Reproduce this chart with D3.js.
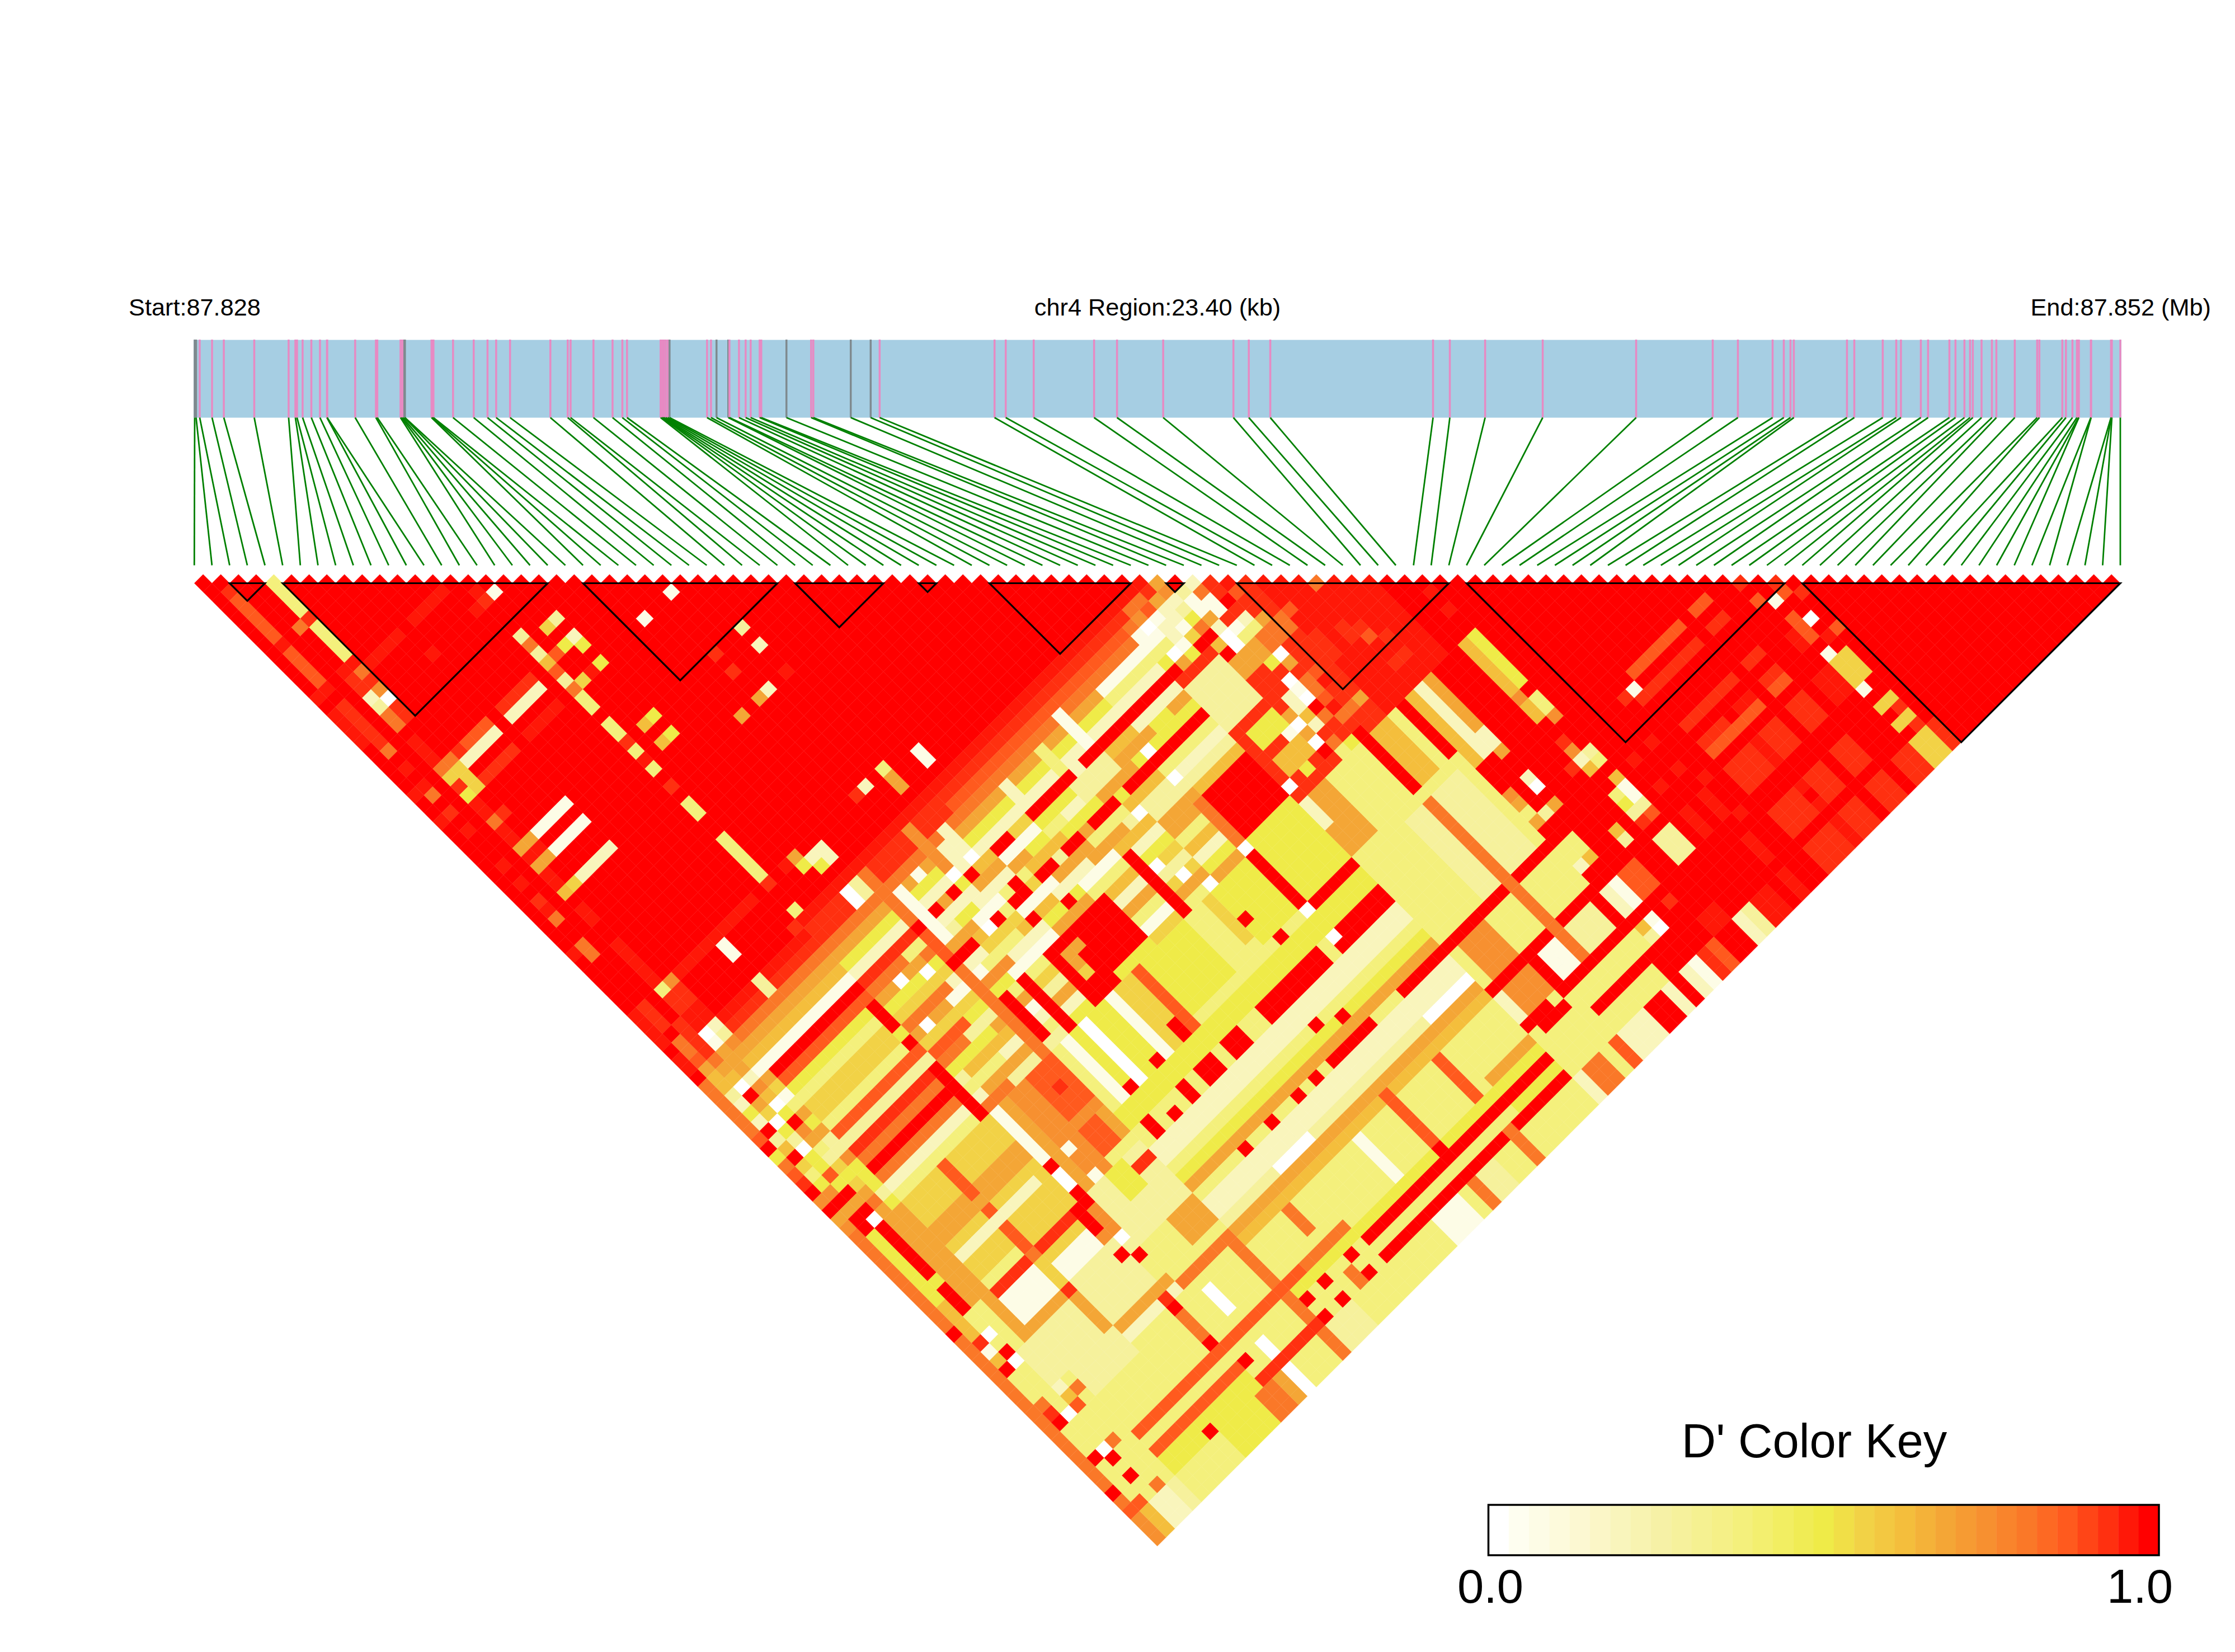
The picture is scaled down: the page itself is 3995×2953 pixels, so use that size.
<!DOCTYPE html>
<html><head><meta charset="utf-8">
<script src="https://cdn.jsdelivr.net/npm/d3@7"></script>
<style>html,body{margin:0;background:#fff}svg{display:block}text{font-family:"Liberation Sans",Arial,sans-serif;fill:#000}</style>
</head><body><div id="c"></div>
<script>
const snpOffsets=[0,17,61,211,354,724,1142,1224,1244,1312,1418,1523,1608,1611,1951,2203,2220,2502,2515,2529,2549,2556,2879,2890,2903,3141,3392,3560,3665,3834,4324,4535,4570,4848,5080,5199,5256,5664,5681,5691,5705,5726,5750,5773,6229,6277,6344,6487,6501,6617,6698,6759,6868,6888,7194,7494,7521,7976,8218,8327,9724,9860,10200,10934,11213,11774,12628,12815,13076,15055,15259,15688,16388,17524,18455,18761,19183,19319,19400,19441,20087,20176,20522,20686,20743,20985,21073,21332,21406,21515,21583,21617,21723,21849,21903,22127,22399,22426,22705,22749,22828,22882,22902,22906,23052,23055,23297,23300,23307,23410];
const greySnps=[0,1,20,21,43,46,47,54,57,58];
const ldBlocks=[[2,4],[5,20],[22,33],[34,39],[41,42],[45,53],[55,56],[59,71],[72,90],[91,109]];
const keyLabels=["0.0","1.0"];
const keyTitle="D' Color Key";
const regionTexts=["Start:87.828","chr4 Region:23.40 (kb)","End:87.852 (Mb)"];
const keyStops=[[0,"#ffffff"],[1,"#fefef0"],[4,"#fcf8d2"],[8,"#f6f1a6"],[12,"#f4f07c"],[16,"#efeb48"],[18,"#f2d246"],[20,"#f4be3c"],[22,"#f4a636"],[24,"#f79030"],[26,"#fa7828"],[28,"#ff5a1e"],[30,"#ff3010"],[32,"#ff0000"]];
const levelValues={W:0,1:2/32,2:6/32,3:9/32,4:12/32,5:16/32,6:18/32,7:20/32,8:22/32,9:24/32,a:26/32,b:28/32,c:30/32,d:31/32,R:1};
// D': "firstSNP-lastSNP,pairSNP-range,level", later entries override earlier ones; everything else is 1.0
const dprimePatches=`0-53,54-108,4
5-14,54,d 5-14,55,c 5-14,56,a 5-14,57,8 5-14,58,7 5-14,59,1 5-14,60,R 5-14,61,b 5-14,62,5 5-14,63,4 5-14,64,6 5-14,65,6 5-14,66,4 5-14,67,b 5-14,68,3 5-14,69,c 5-14,70,a 5-14,71,R 5-14,72,a 5-14,73,2 5-14,74,4
14,69-74,R 14,62-64,R 14,66,R 14,65,5
15-53,53,d 15-53,54,c 15-29,55,c 30-53,55,b 15-53,56,a 15-44,57,8 45-53,57,1 15-44,58,5 45-53,58,4 15-53,59,2 15-50,60,R 15-20,64,6 21-50,64,R 15-53,69,4 15-53,70,6 15-53,71,3 15-53,72,8 15-53,73,2 15-53,74,5
15-18,61,a 19-22,61,4 23-26,61,2 27-29,61,8 30-33,61,1 34-37,61,5 38-41,61,3 42-44,61,7 45-53,61,2
15-19,62,8 20-21,62,a 22-23,62,3 24-25,62,5 26-29,62,2 30-31,62,8 32-33,62,5 34-35,62,4 36-37,62,2 38-41,62,3 42-45,62,8 46-47,62,5 48-53,62,8
15-20,63,5 21-24,63,8 25-27,63,1 28-30,63,4 31-34,63,7 35-38,63,5 39-42,63,8 43-53,63,5
15-19,65,a 20-23,65,2 24-27,65,6 28-31,65,1 32-35,65,8 36-39,65,4 40-43,65,7 44-53,65,4
15-18,66,8 19-22,66,1 23-26,66,4 27-30,66,7 31-34,66,2 35-38,66,8 39-43,66,3 44-53,66,2
15-20,67,6 21-24,67,9 25-28,67,2 29-32,67,5 33-36,67,1 37-40,67,7 41-44,67,3 45-53,67,3
15-18,68,b 19-23,68,5 24-27,68,1 28-32,68,8 33-36,68,4 37-40,68,2 41-44,68,8 45-53,68,7
15-17,69,a 18-21,69,3 34-36,69,7 38-40,69,5 41-43,69,8 15-19,70,5 20-23,70,8 34-37,70,2 38-40,70,6 41-43,70,4 16-20,71,7 21-23,71,1 34-36,71,8 38-40,71,3 41-43,71,7 15-18,72,4 19-23,72,2 34-36,72,4 38-40,72,6 41-43,72,2 16-20,73,8 21-23,73,4 34-36,73,1 38-40,73,8 41-43,73,5 15-17,74,a 18-23,74,3 34-36,74,6 38-40,74,4 41-43,74,8
21,54-59,a 21,61-63,b 21,65-74,a 22,57-62,1 27,57-59,2 28,56-59,2 34,57-59,2 41,56-59,1 38,57-59,4 26,54-59,9
15-20,60,c 24,60,8 26,60,5 28-29,60,7 32-33,60,6 39,60,2 24,64,7 27,64,4 30,64,6 33,64,3 36,64,8 40,64,5
19,54-55,W 20,54-55,3 28,59,W 26,59,W 25,64,W 28,66,R 31,67,R 29,63,R 44,66,W 51,59,W 51,56,W 52,56,1 51,60,5 24,57,1 38,70,W 39,72,W 40,74,W 40,66,W 44,63,W 28,68,1 16,66,W 19,63,W 17,62,W
37,68-74,R 22,69-73,R 24,69-74,R 27-29,69-74,R 30-33,69-73,R 28,72,6 28,70-71,8 29,70,8 44,69-73,a 44,74,W
46-53,54,c 51-52,54,a 53,54,c 53,55,8 54,55,9 54,54,8 56,56,2 57,57,c 58,58,d 59,59,c 56,57,a 57,58,c 58,59,b 59,60,a 55,56,3 56,58,1 55,57,1 55,58,1 56,59,1 54,56,2 54,57,3 54,58,4 55,59,8 53,56-57,2 53,58,1
50-61,60-74,c 50,54,c 50,55,a 51,55,9 50,56-57,1 50,58,4 50,59,5 50,60,R 52,57,2 51,57,1 52,58,2 53,58,1 54,58,5 54,59,a 55,60,2 56,60,c 56,61,1 57,61,2 57,62,4 58,62,8 58,63,8 55,61,W 53,59,6 53,60,R 54,60,R 54,61,7 55,62,W 56,62,4 54,62,R 53,62,a 52,59,1 51,59,W 52,60,5 51,60,8
55,68-69,2 56,69,W 56,68,1 56,67,W 57,68-69,a 58,68,b 58,67,c 58,66,c 57,66,8 58,65,c 57,70,b 58,70,c 58,69,d 56,70,R 55,70,7 54,70,W 54,69,8 53,70,1 54,71,8 54,72,W 55,71,2 56,71,a 57,71,d 54,73,R 55,73,a 56,72,c 57,72,a 58,72,a 59,72,8 60,73,c 57,74,R 56,74,5 55,74,4 52,73,5 50,73,W 51-53,71-72,7 50-53,62-66,3 51-53,68-69,5 57,65,W 56,65,5 54-56,63-64,8 57-59,63-64,a 45-49,69-73,R
60-66,60-74,d 60,63,b 59,64,a 60,66-68,c 62,67-68,c 63,68,c 64,68,d 63,69,b 64,70,c 64,72,c 63,72,c 60,72,d 63,63,a
0,57-62,a 1,56,8 2,56,a 3,56,8 4,56,9 1,57,7 2,57,8 3,57,8 4,57,8 1,58,7 2,58,7 3,58,8 4,58,7 1,59,3 2,59,W 3,59,2 4,59,1 0,60,a 1,60,2 2,60,R 3,60,9 4,60,8 1,61,5 2,61,8 3,61,7 4,61,6 1,62,2 2,62,6 3,62,W 4,62,1
0,63,b 1,63,R 2,63,W 3,63,5 4,63,4 0,64,R 1,64,3 2,64,5 3,64,R 4,64,8 0,65,5 1,65,7 2,65,3 3,65,9 4,65,5 0,66,a 1,66,R 2,66,W 3,66,8 4,66,8 0,67,b 1,67,6 2,67,5 3,67,4 4,67,3 0,68,c 1,68,4 2,68,5 3,68,3 4,68,3 0,69,R 1,69,5 2,69,b 3,69,6 4,69,9
0,70,9 1,70,9 2,70,5 3,70,5 4,70,5 0,71,R 1,71,R 2,71,R 3,71,6 4,71,5 0-3,72,8 4,72,5 0,73,9 1,73,R 2,73,R 3,73,a 4,73,3 0,74,a 1,74,R 2,74,W 3,74,8 4,74,5
1,54,a 1,53,a 1,55,b 0,54-55,d 3,54,W 4,54,2 3,55,1 4,55,3 2,54-55,c 0-1,56,R 1,56,8
0,75-82,a 1,75-82,5 2,75-80,R 2,81,5 2,82-84,R 3,75-84,8 4,75-88,8 5-8,75-83,6 9,75-84,b 10-14,75-86,6 15,75-81,1 15,81,R 15,82-83,W 15,84-85,R 16,75-88,8 17-18,75-85,9 19-21,75-79,b 20,77,c 19-21,80,9 19-20,81-83,b 21,81-83,8 17,81,1 17,84,1
22,75-90,4 23,75-81,1 24,75-81,5 25,75-81,W 26-27,75-81,5 28,75-81,1 29-30,75-81,6 31,75-81,b 32-36,75-80,5 37,75-81,4 38,75-80,4 39,75-79,6 40-43,75-80,5 40,78,R 41,81,R 44,75-78,R 44,79-81,R 44,81,W 44,82-84,R 44,84,W 44,85,R 45-49,75-80,5 50,75-80,2 51-52,75-77,8 50-52,78-80,8 53-54,75-82,4 55-56,75-81,4 57,75-81,R 58,75-80,7 59,75-80,7 60,75-80,4 54-55,82,R
45-49,81,R 45-49,82-83,5 45-49,84-85,R 41-42,84-85,R 45-49,86-87,2 45-49,88,4 45-49,89,5 45-49,90,8 45-49,91,R 45-49,92-93,2 45-49,94,W 45-49,95,8 45-49,96,7 45-49,97-100,4 45-49,101,8 45-49,102,5 45-49,103,R 45-49,104,5 45-49,105,R 45-49,106-108,4
5-8,78,8 10-14,78,8 5-14,79,8 5-13,81,2 5-14,85,c 9,85,a 5-8,86-88,1 10-13,87-88,1 9,86-88,6 14,85-87,R 15,86-88,9 14,88,9 4-9,89,8 9,89,c 9,90-93,8 9,95,a 4-8,90-93,3 10-14,89-93,3 14,90,R 15,91,R 15,89,W 15,90,3 10-15,94,8 10-15,95,2 5-9,94-96,3 6-14,97-100,4 14,95,c 14,96,R 14,97-99,a 14,100,R 5-14,101,b 5-14,102,4 5-14,103,b 5-14,104,5 5-14,105-108,5 10-13,105-108,5 9,105,R
0,83-108,a 0,85,R 1,83-90,7 1,87-88,c 1,88,1 1,90,R 2,87,W 2,89,R 2,90,W 3,90-93,3 3,94,2 3,95,7 3,96,b 4,95,a 2,96,W 1,96,R 1,95,c 1,94,a 1,100,R 2,101,R 2,100,W 3,100,a 2,103,R 0,103,R 3,105,a 1,105,b 0,105,b 0,106-107,9 1,106-108,7 0,108,9 2-3,106-108,2 4,106-108,3 5-9,106-108,4 10-13,106-108,5 14-15,106-108,a 16,106-108,8 17,106-108,W 18-20,106-108,4 21,106-108,a 22-24,106-108,3
16-21,85-90,3 18-19,85-87,5 20-21,86,c 19-21,91-93,8 16-22,95,a 17,97-99,W 21,96-104,a 17,103,W 15,103,R 15,105,R 17,104,W 15-21,105,c 22,105,R 22,103,R 24,105,R 24,103,R 27,105,R 27,103,R 22,91,R 24,91,R 23,89,W 25,89,W 15-23,101,b 24-28,101,a
22-44,82-83,5 23,84-85,R 25,85-86,R 27,84-86,R 29-30,84-85,R 32-33,84-85,R 30,80-81,R 27,81,R 24,81,R 36-40,84-85,R 22-44,86-87,2 22-44,88,4 22-44,89,5 22-44,90,8 22-44,91,4 27,91,R 30,91,R 33,91,R 35,91,R 37,91,R 38-41,91,R 40,89,R 38,88,R 22-44,92-93,2 22-44,94,3 28-31,94,W 22-44,95,8 22-44,96,7 22-44,97-100,4 34,97-101,1 26,97-99,a 38,96-101,b 43,97-101,b 22-44,102,5 29-48,103,R 29-48,105,R 26,104-108,a 38,102-103,R 43,105-108,a 25-34,106-108,4 34-36,106-108,1 38,106-108,a 39-40,106-108,3 41-42,106-108,4 43,106-108,a 44,106-108,4 50,106-108,2 51-52,105-108,a 53,106-108,4 54,105-108,b 55-57,106-108,2 53,103,R 53,105,R
58-60,97-99,3 55-56,97-99,1 55-57,96,R 55-56,100,R 50-52,100,R 51-53,97-99,9 50,97-99,2 57,97-99,a
62,75-80,7 63,75-80,2 64,75-80,8 61,75-80,R 66-67,75-92,R 68,75-80,7 69,75-80,5 68,81,9 68,82-83,7 69,82-83,4 69,84,9 62-64,81-96,R 63-64,81-82,2 62,81-82,7 64,83,8 62,86,9 62,87,8 62,88,4 62,89,8 63,89,3 64,89,8 64,87,W 64,86,2 62-63,92-93,4 62,94,2 63,94,7 62-63,97-99,2 63,97-99,1 64-65,97-99,b 62,101,7 62,102,3 63,101,1 63,102,W
69,88,3 69,89,4 68,88,2 68,89,7 68,87,9 68,86,c 67,88,c 69,91,7 69,92,1 69,93,1 69,94,3 69,95,b 68,92,4 68,93,5 68,94,3 68,95,c 66,94,7 66,95,3 68-69,97-99,3 68,101,8 69,101,5 69,102,3 68,102,3 68-69,104,3
50-61,81-96,4 50-61,91,R 50-61,96,R 51-53,92-95,9 55-60,82-90,3 57,82-96,a 50-61,101-105,4 51-53,101,R 55-60,103,R 60,106-108,2 61,106-108,R 62,106-108,2 63,106-108,1 64,106-108,c 65,106-108,b 66-67,106-108,R 68,106-108,2 69,106-108,3 70-71,106-108,d 73,106-108,d
65-69,100-105,R 65,101,c 66-67,104-105,d 61-65,103-105,R
76-81,92,c 80-81,94,d 76-78,94,c 76-81,95,b 83-84,94,c 83-84,95,b 83-84,92,c 83-84,86,b 83-84,88,c 76-81,86,b 75,87,1 74,87,c 75,88,c 76-81,88,c 73,94,d 74,96,d 71,94,d 71,91,d 73,91,d 71,97-99,d 73,97-99,d 74,100,d 73,102-104,d
76-81,97-99,c 79,97-99,d 83-84,97-99,c 86-87,97-99,d 76-78,102-104,c 79,102,d 79,103,R 79,104,d 80-81,102-104,c 83-84,102-104,c 76-78,106-108,c 79,106-108,d 80-81,106-108,c 83-84,106-108,c 86-87,106-108,c 88-89,106-108,6 90,106-108,c
88,96,1 88-89,97-99,6 88,100,1 88-89,102,6 89,103,c 88-89,104,6 89,105,c 88,92-94,b 89,93,W 89,90,b 90,91,c 88,90,1 87,89,b 87,87,c 89,89,c 87,93-94,d 89,95,d 90,95,b
94-95,95,R 92,92,R 101-102,94,d 99-100,96,d
69,70,d 69,72,d 60,80,4
4,4-7,4 4,8,c 4,9-12,4 4,13,d 4,14,a 4,15,c 4,16,9 4,17,W 4,18-19,c 3,8,a 1,2,c 1,3,b 1,4-7,b 1,8,d 1,9-12,b 1,13,d 0,13,d 3,13,d 3,14,c 3,15,c 3,16,2 3,17,3 3,18-19,a
1,15-19,c 1,20,a 0,15-18,d 1,22,d 1,24,d 1,25,a 0,24,d 1,27,c 0,27,d 1,29,d 1,33,d 1,35,d 1,37,c 1,38,d 1,39,a 0,42,d 1,42-43,a
5-8,14,d 10-13,14,d 9,17,d 15,16,d 16,17,1 15,17,c 14,17,d
18,22,3 17,22,6 18,24,2 17,24,5 18,25,5 15,21,3 15,22,a 15,23,3 15,24,7 16,24,b 15,25,b 15,26,3 15,27,a 16,27,6 17,27,d 18,27,5 15,28-29,4 15,31-32,4 15,33,c 15,34,4 15,35,d 15,36,4 18,33,5 17,33,7 18,35,5 17,35,7 15,38,c 15,40-41,4 15,44-48,4 15,49,c
10-13,24,c 10-13,25,2 10-13,27,d 6-8,24,b 6-8,25,2 5,25,2 4,25,6 3,25,6 4,24,a 3,24,a 5,24,c 3,21-23,d 5-8,27,c 4,27,6 3,27,5 3,26,c 4,26,6 3,28-30,d 3,30,a 4,30,c 3,31-33,d 3-4,33,8 5-8,33,1 3-4,34,d 3-4,35,8 5-8,35,1 3,36-37,d 3,38,7 4,38,6 5-8,38,2 3,40-41,d 3,44-48,d 3,49,4 4,49,9 3-4,50-51,c 5-8,49,d 9-13,49,d 9,50-51,1 1,49-51,c 0,49-52,d 1,53,a 3-4,52-53,d 2,52-53,c 9,54-55,3
26,27,1 23,27,1 28,33,3 28,35,2 25,33,c 25,35,c 28,38,d 26,38,2 25,38,8 23,38,8 31,50-51,1 28,49,4 28,50-51,8 26,49,2 25,49,c 19-20,50-51,2 19,51,5 18,50,5 18,49,8 17,49,d 15,52,4 14,53,c`;

const W=3995,H=2953,triLeft=347.3,triRight=3790,rowTop=1042.5;
const indexX=d3.scaleLinear([0,snpOffsets.length-1],[triLeft,triRight]);
const bw=indexX(1)-indexX(0);
const depthY=d3.scaleLinear([0,1],[rowTop,rowTop+bw/2]);
const bpX=d3.scaleLinear([0,d3.max(snpOffsets)],[348,3790]);
const colour=d3.scaleLinear(keyStops.map(d=>d[0]/32),keyStops.map(d=>d[1])).clamp(true);

const n=snpOffsets.length-1;
const matrix=d3.range(n).map(()=>new Array(n).fill(1));
dprimePatches.split(/\s+/).filter(Boolean).forEach(p=>{
  const [a,b,l]=p.split(",");
  const [i0,i1=i0]=a.split("-").map(Number),[j0,j1=j0]=b.split("-").map(Number);
  for(let i=i0;i<=i1&&i<n;i++)for(let j=Math.max(j0,i);j<=j1&&j<n;j++)matrix[i][j]=levelValues[l];
});
const cells=[];
for(let i=0;i<n;i++)for(let j=i;j<n;j++)cells.push({i,j,v:matrix[i][j]});

const svg=d3.select("#c").append("svg").attr("width",W).attr("height",H).attr("viewBox",[0,0,W,H]);
svg.append("rect").attr("width",W).attr("height",H).attr("fill","#fff");
const t=svg.append("g").attr("font-size",43.3);
t.append("text").attr("x",230).attr("y",564).text(regionTexts[0]);
t.append("text").attr("x",2069).attr("y",564).attr("text-anchor","middle").text(regionTexts[1]);
t.append("text").attr("x",3952).attr("y",564).attr("text-anchor","end").text(regionTexts[2]);

svg.append("rect").attr("x",346).attr("y",607.6).attr("width",3790-346+2).attr("height",139).attr("fill","#a6cee3");
svg.append("g").selectAll("line").data(snpOffsets).join("line")
 .attr("x1",d=>bpX(d)).attr("x2",d=>bpX(d)).attr("y1",607).attr("y2",746.5)
 .attr("stroke",(d,k)=>greySnps.includes(k)?"#7f8a8f":"#e78ac3").attr("stroke-width",3.5);
svg.append("g").selectAll("line").data(snpOffsets).join("line")
 .attr("x1",d=>bpX(d)).attr("y1",746.5).attr("x2",(d,k)=>indexX(k)).attr("y2",1010.5)
 .attr("stroke","#008000").attr("stroke-width",2.8);

const diamond=d=>{const cx=(indexX(d.i)+indexX(d.j+1))/2,cy=depthY(d.j-d.i),h=bw/2;
  return `M${cx-h},${cy}L${cx},${cy-h}L${cx+h},${cy}L${cx},${cy+h}Z`;};
svg.append("g").selectAll("path").data(cells).join("path").attr("d",diamond)
 .attr("fill",d=>colour(d.v)).attr("stroke",d=>colour(d.v)).attr("stroke-width",.4);

svg.append("g").selectAll("path").data(ldBlocks).join("path")
 .attr("d",([a,b])=>`M${indexX(a)},${rowTop}L${indexX(b)},${rowTop}L${(indexX(a)+indexX(b))/2},${depthY(b-a)}Z`)
 .attr("fill","none").attr("stroke","#000").attr("stroke-width",3.2).attr("stroke-linejoin","miter");

const keyX=d3.scaleLinear([0,33],[2660.5,3859]);
svg.append("g").selectAll("rect").data(d3.range(33)).join("rect")
 .attr("x",d=>keyX(d)).attr("y",2690).attr("width",keyX(1)-keyX(0)+.4).attr("height",90).attr("fill",d=>colour(d/32));
svg.append("rect").attr("x",2660.5).attr("y",2690).attr("width",1198.5).attr("height",90).attr("fill","none").attr("stroke","#000").attr("stroke-width",3.5);
svg.append("text").attr("x",3243).attr("y",2605).attr("text-anchor","middle").attr("font-size",85).text(keyTitle);
svg.append("text").attr("x",2664).attr("y",2865).attr("text-anchor","middle").attr("font-size",85).text(keyLabels[0]);
svg.append("text").attr("x",3825).attr("y",2865).attr("text-anchor","middle").attr("font-size",85).text(keyLabels[1]);
</script></body></html>
